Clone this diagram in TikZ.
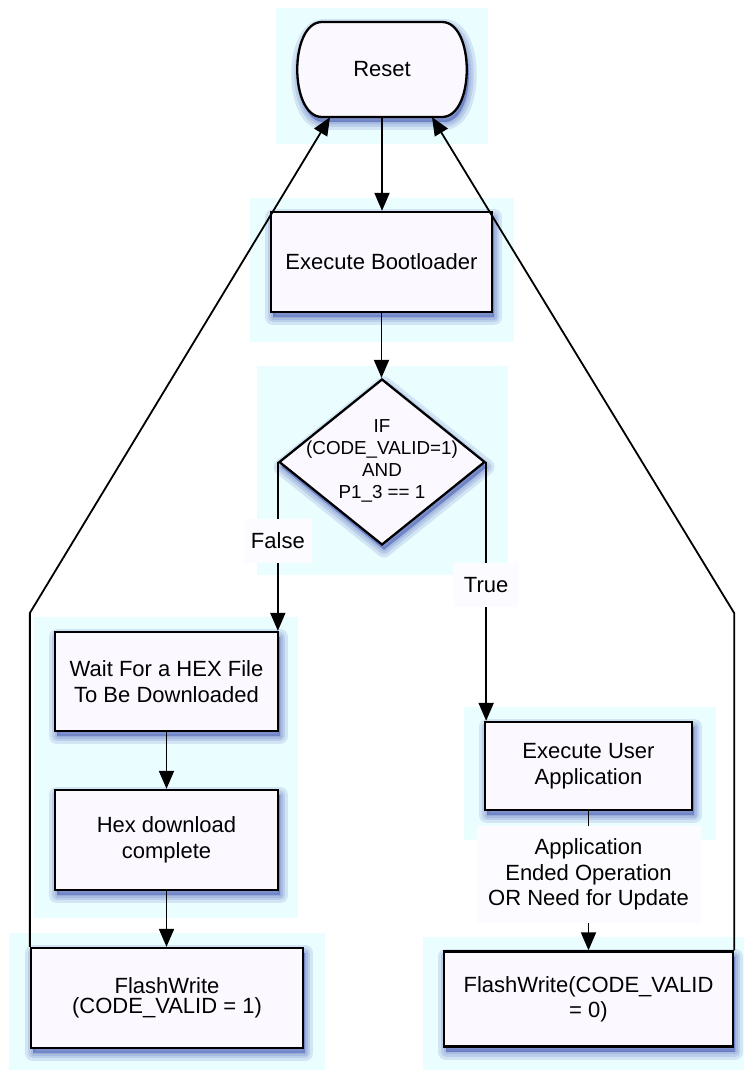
\documentclass[tikz,border=0pt]{standalone}
\usepackage{fontspec}
\setmainfont{Liberation Sans}
\usetikzlibrary{arrows.meta,shapes.geometric}

\definecolor{glow}{RGB}{234,254,255}
\definecolor{boxfill}{RGB}{251,249,255}
\definecolor{labfill}{RGB}{252,251,255}
\definecolor{shade}{RGB}{45,65,170}

\tikzset{
  zone/.style={fill=glow, draw=none},
  % one soft layer of the bluish drop shadow
  halo/.style={preaction={draw=shade, fill=shade, line width=#1,
    line join=round, opacity=0.13,
    transform canvas={xshift=2pt, yshift=-5pt}}},
  boxline/.style={halo=16pt, halo=10pt, halo=5pt, halo=1pt,
    draw=black, line width=2.3pt, fill=boxfill},
  procbox/.style={boxline, align=center, inner sep=0pt,
    font=\fontsize{22}{26}\selectfont},
  arr/.style={line width=1.8pt, -{Triangle[length=18pt,width=15pt]}},
  tag/.style={fill=labfill, inner sep=0pt, align=center,
    font=\fontsize{22}{25.5}\selectfont},
}

\begin{document}
\begin{tikzpicture}[x=1pt,y=-1pt]
\useasboundingbox (0,0) rectangle (744,1070);

% pale background zones behind the groups
\fill[zone] (276,8) rectangle (488,144);
\fill[zone] (250,198) rectangle (514,342);
\fill[zone] (257,366) rectangle (508,575);
\fill[zone] (34,617) rectangle (298,918);
\fill[zone] (464,707) rectangle (716,840);
\fill[zone] (9,933) rectangle (325,1070);
\fill[zone] (423,937) rectangle (744,1070);

% terminator outline
\draw[boxline] (322,22) -- (442,22)
  .. controls (475,22) and (475,117) .. (442,117) -- (322,117)
  .. controls (289,117) and (289,22) .. (322,22) -- cycle;
\node[inner sep=0pt, minimum width=170pt, minimum height=95pt,
  font=\fontsize{22}{26}\selectfont] (reset) at (382,69.5) {Reset};

% process boxes
\node[procbox, minimum width=221pt, minimum height=100pt] (boot) at (381.5,262) {Execute Bootloader};

\node[diamond, boxline, inner sep=0pt, minimum width=206pt, minimum height=166pt] (dec) at (382,462) {};
\node[align=center, font=\fontsize{18.8}{22}\selectfont] (dectext) at (382,461)
  {IF\\(CODE\_VALID=1)\\AND\\P1\_3 == 1};

\node[procbox, minimum width=223pt, minimum height=99pt] (wait) at (166.5,681.5)
  {Wait For a HEX File\\To Be Downloaded};
\node[procbox, minimum width=223pt, minimum height=100pt] (hex) at (166.5,840)
  {Hex download\\complete};
\node[procbox, minimum width=272pt, minimum height=100pt,
  font=\fontsize{22}{20}\selectfont] (fw1) at (167,998)
  {FlashWrite\\(CODE\_VALID = 1)};

\node[procbox, minimum width=207pt, minimum height=88pt] (user) at (588.5,766)
  {Execute User\\Application};
\node[procbox, minimum width=289pt, minimum height=95pt,
  font=\fontsize{22}{25}\selectfont] (fw0) at (588.5,999)
  {FlashWrite(CODE\_VALID\\= 0)};

% connectors
\draw[arr] (reset.south) -- (reset.south |- boot.north);
\draw[arr] (boot.south) -- (boot.south |- dec.north);
\draw[arr] (dec.west) -- (dec.west |- wait.north)
  node[tag, pos=0.465, minimum width=68pt, minimum height=44pt] {False};
\draw[arr] (dec.east) -- (dec.east |- user.north)
  node[tag, pos=0.477, minimum width=66pt, minimum height=44pt] {True};
\draw[arr] (wait.south) -- (hex.north);
\draw[arr] (hex.south) -- (hex.south |- fw1.north);
\draw[arr] (user.south) -- (fw0.north)
  node[tag, pos=0.454, minimum width=224pt, minimum height=97pt]
  {Application\\Ended Operation\\OR Need for Update};

% return paths to the reset state
\draw[arr] (fw1.north west) -- (fw1.north west |- 0,613) -- ([xshift=-52pt]reset.south);
\draw[arr] (fw0.north east) -- (fw0.north east |- 0,613) -- ([xshift=50pt]reset.south);
\end{tikzpicture}
\end{document}
